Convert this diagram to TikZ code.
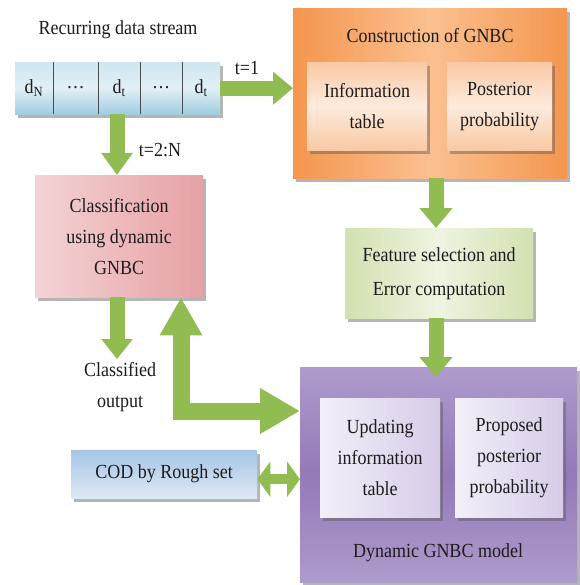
\documentclass[tikz,border=0pt]{standalone}
\usepackage{fontspec}
\setmainfont{Liberation Serif}[FakeStretch=0.9]
\usetikzlibrary{shadows,arrows.meta,calc}
\definecolor{txt}{HTML}{1C1C1C}
\definecolor{arr}{HTML}{90BC52}
\definecolor{stripA}{HTML}{CDE6F0}
\definecolor{stripB}{HTML}{9FCDE0}
\definecolor{orA}{HTML}{F4964E}
\definecolor{orB}{HTML}{FBC090}
\definecolor{orInA}{HTML}{F9C9A4}
\definecolor{orInB}{HTML}{FDEBDD}
\definecolor{pkA}{HTML}{E6A1A5}
\definecolor{pkB}{HTML}{F4D3D4}
\definecolor{grA}{HTML}{D2E1B0}
\definecolor{grB}{HTML}{EEF4E1}
\definecolor{puA}{HTML}{AE9BCC}
\definecolor{puB}{HTML}{9479B8}
\definecolor{puInA}{HTML}{D8CBE8}
\definecolor{puInB}{HTML}{F3EFF8}
\definecolor{cdA}{HTML}{A6C5E5}
\definecolor{cdB}{HTML}{DDE9F5}
\definecolor{shd}{HTML}{5A5A5A}
\newcommand\fs{\fontsize{20}{31}\selectfont}
\newcommand\fsg{\fontsize{20}{34}\selectfont}
\begin{document}
\begin{tikzpicture}[x=1pt,y=-1pt,
  box/.style={rectangle, inner sep=0pt, align=center, font=\fs, text=txt,
    anchor=north west,
    drop shadow={shadow xshift=3pt,shadow yshift=-4pt,fill=shd,opacity=.45}},
  lbl/.style={inner sep=1pt, align=center, font=\fs, text=txt},
  divider/.style={draw=black!70, line width=0.8pt},
  fat/.style={draw=arr, line width=15pt, -{Triangle[length=20pt,width=32pt]}},
]
\useasboundingbox (0,0) rectangle (579,585);

% title
\node[lbl] (title) at (118,30) {Recurring data stream};

% data stream strip
\node[box, minimum width=205pt, minimum height=52pt,
  top color=stripA, bottom color=stripB, middle color=stripA!60!white] (strip) at (15,62) {};
\node[lbl] (c1) at (34,88) {d\textsubscript{N}};
\node[lbl] (c2) at (75.5,88) {\ldots};
\node[lbl] (c3) at (119,88) {d\textsubscript{t}};
\node[lbl] (c4) at (161,88) {\ldots};
\node[lbl] (c5) at (201,88) {d\textsubscript{t}};
\draw[divider] (53,62) -- (53,114);
\draw[divider] (98,62) -- (98,114);
\draw[divider] (140,62) -- (140,114);
\draw[divider] (182,62) -- (182,114);

% orange construction box
\node[box, minimum width=274pt, minimum height=170pt,
  left color=orA, right color=orA, middle color=orB] (orange) at (293,8) {};
\node[lbl] (otitle) at (430,36) {Construction of GNBC};
\node[box, minimum width=120pt, minimum height=88pt,
  top color=orInA, bottom color=orInA, middle color=orInB] (info) at (307,62)
  {Information\\table};
\node[box, minimum width=105pt, minimum height=88pt,
  top color=orInA, bottom color=orInA, middle color=orInB] (post) at (447,62)
  {Posterior\\probability};

% pink classification box
\node[box, minimum width=168pt, minimum height=122pt,
  left color=pkB, right color=pkA] (pink) at (35,175)
  {Classification\\using dynamic\\GNBC};

% green feature selection box
\node[box, font=\fsg, minimum width=188pt, minimum height=90pt,
  left color=grA, right color=grA, middle color=grB] (green) at (345,228)
  {Feature selection and\\Error computation};

% classified output
\node[lbl] (classified) at (120,387) {Classified\\output};

% purple dynamic model
\node[box, minimum width=277pt, minimum height=215pt,
  top color=puA, bottom color=puA, middle color=puB] (purple) at (300,367) {};
\node[box, minimum width=120pt, minimum height=119pt,
  left color=puInB, right color=puInA] (upd) at (320,398)
  {Updating\\information\\table};
\node[box, minimum width=108pt, minimum height=119pt,
  left color=puInB, right color=puInA] (prop) at (455,398)
  {Proposed\\posterior\\probability};
\node[lbl] (ptitle) at (438,553) {Dynamic GNBC model};

% COD box
\node[box, minimum width=186pt, minimum height=48pt,
  top color=cdA, bottom color=cdB] (cod) at (71,450) {COD by Rough set};

% arrows
\coordinate (ax) at (436,0);
\coordinate (lx) at (117,0);
\coordinate (Lx) at (181,0);
\coordinate (Ly) at (0,411);

\draw[fat] (strip.east) -- (strip.east -| orange.west);
\node[lbl] (t1) at (247,68) {t=1};

\draw[fat, -{Triangle[length=22pt,width=30pt]}] (strip.south -| lx) -- (pink.north -| lx);
\node[lbl] (t2) at (160,150) {t=2:N};

\draw[fat] (orange.south -| ax) -- (green.north -| ax);
\draw[fat, shorten >=-10pt] (green.south -| ax) -- (purple.north -| ax);

\draw[fat, -{Triangle[length=20pt,width=30pt]}, shorten >=2pt] (pink.south -| lx) -- (classified.north -| lx);

\draw[draw=arr, line width=17pt, line join=miter,
  {Triangle[length=38pt,width=40pt]}-{Triangle[length=40pt,width=43pt]}]
  (pink.south -| Lx) |- (purple.west |- Ly);

\draw[draw=arr, line width=10pt,
  {Triangle[length=13pt,width=35pt]}-{Triangle[length=13pt,width=35pt]}]
  ($(cod.east)+(0,5)$) -- ($(cod.east -| purple.west)+(0,5)$);
\end{tikzpicture}
\end{document}
